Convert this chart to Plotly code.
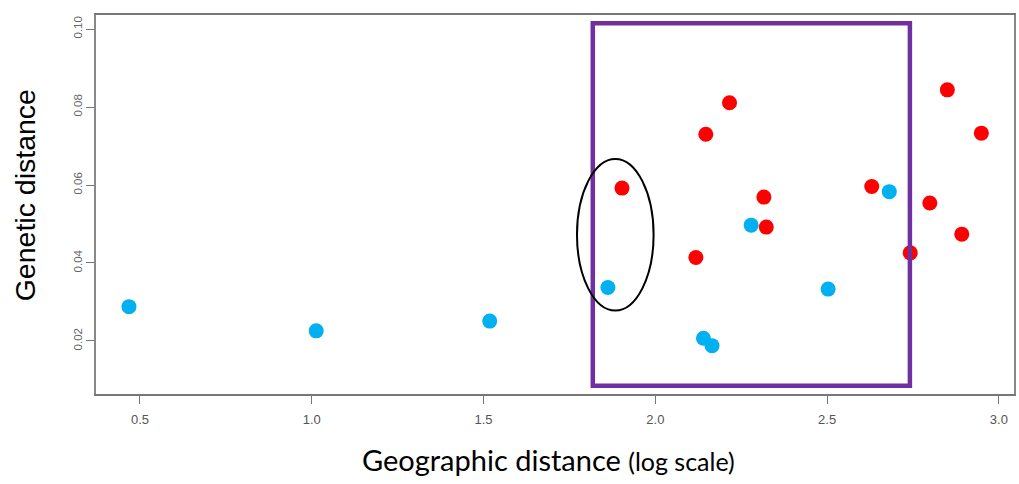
import plotly.graph_objects as go

# --- data ---
blue_x = [0.468, 1.013, 1.518, 1.862, 2.140, 2.165, 2.279, 2.503, 2.681]
blue_y = [0.0288, 0.0226, 0.0251, 0.0337, 0.0207, 0.0188, 0.0497, 0.0333, 0.0583]

red_x = [1.903, 2.118, 2.147, 2.216, 2.316, 2.323, 2.630, 2.742, 2.799, 2.850, 2.892, 2.949]
red_y = [0.0592, 0.0414, 0.0730, 0.0811, 0.0569, 0.0492, 0.0596, 0.0426, 0.0554, 0.0844, 0.0474, 0.0733]

x_ticks = [0.5, 1.0, 1.5, 2.0, 2.5, 3.0]
x_tick_labels = ["0.5", "1.0", "1.5", "2.0", "2.5", "3.0"]
y_ticks = [0.02, 0.04, 0.06, 0.08, 0.10]
y_tick_labels = ["0.02", "0.04", "0.06", "0.08", "0.10"]

# highlight regions (data coordinates)
box_x = [1.818, 2.741]
box_y = [0.0085, 0.1015]
ellipse_x = [1.772, 1.995]
ellipse_y = [0.0278, 0.0667]

fig = go.Figure()
fig.add_trace(go.Scatter(x=blue_x, y=blue_y, mode="markers",
                         marker=dict(color="#00B0F0", size=15, line=dict(width=0)),
                         showlegend=False))
fig.add_trace(go.Scatter(x=red_x, y=red_y, mode="markers",
                         marker=dict(color="#FF0000", size=15, line=dict(width=0)),
                         showlegend=False))

fig.add_shape(type="rect", xref="x", yref="y",
              x0=box_x[0], x1=box_x[1], y0=box_y[0], y1=box_y[1],
              line=dict(color="#7030A0", width=4.5))
fig.add_shape(type="circle", xref="x", yref="y",
              x0=ellipse_x[0], x1=ellipse_x[1], y0=ellipse_y[0], y1=ellipse_y[1],
              line=dict(color="black", width=2))

fig.update_layout(
    width=1019, height=484,
    margin=dict(l=96, r=3, t=15, b=90),
    paper_bgcolor="white", plot_bgcolor="white",
    xaxis=dict(range=[0.372, 3.044], tickvals=x_ticks, ticktext=x_tick_labels,
               showgrid=False, zeroline=False,
               showline=True, linecolor="#777777", linewidth=1.5, mirror=True,
               ticks="outside", ticklen=8, tickcolor="#777777",
               ticklabelstandoff=5,
               tickfont=dict(family="Liberation Sans Narrow, Arial Narrow, Liberation Sans", size=13, color="#555555")),
    yaxis=dict(range=[0.0064, 0.1036], tickvals=y_ticks, ticktext=y_tick_labels,
               showgrid=False, zeroline=False,
               showline=True, linecolor="#888888", linewidth=1.5, mirror=True,
               ticks="outside", ticklen=8, tickcolor="#777777", tickangle=-90,
               tickfont=dict(family="Liberation Sans, Arial", size=11.5, color="#666666")),
    annotations=[
        dict(text="Genetic distance", xref="paper", yref="paper",
             x=-0.077, y=0.525, xanchor="center", yanchor="middle",
             textangle=-90, showarrow=False,
             font=dict(family="Liberation Sans, Arial", size=28.5, color="black")),
        dict(text="Geographic distance <span style='font-size:25px'>(log scale)</span>",
             xref="paper", yref="paper", x=0.4924, y=-0.174,
             xanchor="center", yanchor="middle", showarrow=False,
             font=dict(family="Lato, Noto Sans", size=29, color="black")),
    ],
)

fig.write_html("out.html", config={"displayModeBar": False},
               post_script="document.body.style.margin='0px';")
